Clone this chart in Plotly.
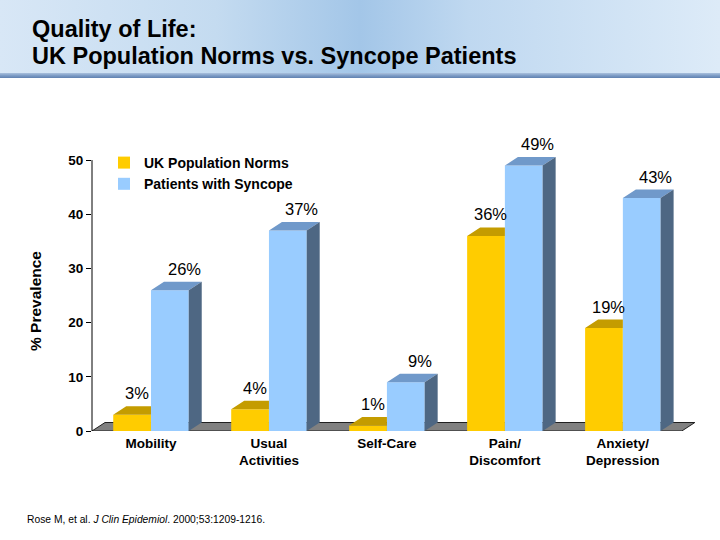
import plotly.graph_objects as go

# ---------------- data ----------------
categories = ["Mobility", "Usual<br>Activities", "Self-Care", "Pain/<br>Discomfort", "Anxiety/<br>Depression"]
uk_norms = [3, 4, 1, 36, 19]
syncope = [26, 37, 9, 49, 43]
series_names = ["UK Population Norms", "Patients with Syncope"]
y_ticks = [0, 10, 20, 30, 40, 50]

title_line1 = "Quality of Life:"
title_line2 = "UK Population Norms vs. Syncope Patients"
y_title = "% Prevalence"
citation = "Rose M, et al. <i>J Clin Epidemiol</i>. 2000;53:1209-1216."

# ---------------- geometry / style ----------------
W, H = 720, 540
PX_L, PX_R, PX_T, PX_B = 92, 696, 133, 431
X_RANGE = [-0.5, 4.62]
Y_RANGE = [0, 55]
ppx = (PX_R - PX_L) / (X_RANGE[1] - X_RANGE[0])
ppy = (PX_B - PX_T) / (Y_RANGE[1] - Y_RANGE[0])
DX = 13 / ppx          # 3D depth offset in x data units
DY = 8.5 / ppy         # 3D depth offset in y data units
BARGAP = 0.36
BW = (1 - BARGAP) / 2

FONT = "Arial, 'Liberation Sans', sans-serif"
COLORS = {
    "front": ["#FFCC00", "#99CCFF"],
    "top": ["#C49C00", "#7099CA"],
    "side": ["#9E7E00", "#4E6783"],
}

series = [uk_norms, syncope]
idx = list(range(len(categories)))

fig = go.Figure()

# ---------------- header band (full-figure overlay axes) ----------------
fig.add_trace(go.Scatter(
    x=[0, W, W, 0, 0], y=[0, 0, 74, 74, 0], xaxis="x2", yaxis="y2",
    mode="lines", line=dict(width=0), fill="toself", fillcolor="#BCD6EF",
    fillgradient=dict(type="horizontal", colorscale=[
        [0, "#D8E7F6"], [0.3, "#C4DBF0"], [0.5, "#A3C6E8"], [0.65, "#BFD8F0"], [1, "#DDEBF8"]]),
    hoverinfo="skip", showlegend=False))
fig.add_trace(go.Scatter(
    x=[0, W, W, 0, 0], y=[73, 73, 78, 78, 73], xaxis="x2", yaxis="y2",
    mode="lines", line=dict(width=0), fill="toself", fillcolor="#7F9FC8",
    fillgradient=dict(type="vertical", colorscale=[
        [0, "#5F80B0"], [0.5, "#7E9DC6"], [1, "#A9C0DD"]]),
    hoverinfo="skip", showlegend=False))

# ---------------- bars (front faces) ----------------
for s, vals in enumerate(series):
    fig.add_trace(go.Bar(
        x=idx, y=vals, name=series_names[s],
        marker=dict(color=COLORS["front"][s], line=dict(width=0)),
        hoverinfo="skip"))

# ---------------- top and side faces ----------------
for s, vals in enumerate(series):
    other = series[1 - s]
    tx, ty, sx, sy = [], [], [], []
    for i, v in enumerate(vals):
        xl = i - BW + s * BW
        xr = xl + BW
        clip = (s == 0 and other[i] >= v + DY)
        if clip:
            tx += [xl, xr, xr, xl + DX, xl, None]
            ty += [v, v, v + DY, v + DY, v, None]
        else:
            tx += [xl, xr, xr + DX, xl + DX, xl, None]
            ty += [v, v, v + DY, v + DY, v, None]
            sx += [xr, xr + DX, xr + DX, xr, xr, None]
            sy += [0, DY, v + DY, v, 0, None]
    fig.add_trace(go.Scatter(x=tx, y=ty, mode="lines", line=dict(width=0),
                             fill="toself", fillcolor=COLORS["top"][s],
                             hoverinfo="skip", showlegend=False))
    if sx:
        fig.add_trace(go.Scatter(x=sx, y=sy, mode="lines", line=dict(width=0),
                                 fill="toself", fillcolor=COLORS["side"][s],
                                 hoverinfo="skip", showlegend=False))

# ---------------- value labels ----------------
label_dx = [0.04, 0.12]
annotations = []
for s, vals in enumerate(series):
    for i, v in enumerate(vals):
        xc = i - BW / 2 + s * BW
        annotations.append(dict(
            x=xc + label_dx[s], y=v + DY, xref="x", yref="y",
            text=f"{v}%", showarrow=False, yanchor="bottom", yshift=2,
            font=dict(family=FONT, size=16.5, color="black")))

# titles / texts
annotations += [
    dict(x=30 / W, y=1 - 28.5 / H, xref="paper", yref="paper", xanchor="left", yanchor="middle",
         text=title_line1, showarrow=False,
         font=dict(family=FONT, size=23.5, color="black", weight="bold")),
    dict(x=30 / W, y=1 - 56 / H, xref="paper", yref="paper", xanchor="left", yanchor="middle",
         text=title_line2, showarrow=False,
         font=dict(family=FONT, size=23.5, color="black", weight="bold")),
    dict(x=35 / W, y=1 - 301 / H, xref="paper", yref="paper", xanchor="center", yanchor="middle",
         text=y_title, textangle=-90, showarrow=False,
         font=dict(family=FONT, size=15.5, color="black", weight="bold")),
    dict(x=25 / W, y=1 - 519 / H, xref="paper", yref="paper", xanchor="left", yanchor="middle",
         text=citation, showarrow=False,
         font=dict(family=FONT, size=10.3, color="black")),
]

# ---------------- floor and axis line ----------------
shapes = [
    dict(type="path", xref="x", yref="y", layer="below",
         path=(f"M {X_RANGE[0]},0 L {len(categories) - 0.5},0 "
               f"L {len(categories) - 0.5 + DX},{DY} L {X_RANGE[0] + DX},{DY} Z"),
         fillcolor="#808080", line=dict(color="#202020", width=1)),
    dict(type="line", xref="paper", yref="y", layer="above",
         x0=PX_L / W, x1=PX_L / W, y0=0, y1=y_ticks[-1],
         line=dict(color="black", width=1)),
]

fig.update_layout(
    width=W, height=H, autosize=False, margin=dict(l=0, r=0, t=0, b=0, autoexpand=False),
    paper_bgcolor="white", plot_bgcolor="rgba(0,0,0,0)",
    barmode="group", bargap=BARGAP, bargroupgap=0,
    font=dict(family=FONT, color="black"),
    xaxis=dict(domain=[PX_L / W, PX_R / W], range=X_RANGE, tickvals=idx, ticktext=categories,
               showgrid=False, zeroline=False, showline=False, ticks="", automargin=False,
               ticklabelstandoff=2,
               tickfont=dict(family=FONT, size=13.5, color="black", weight="bold")),
    yaxis=dict(domain=[1 - PX_B / H, 1 - PX_T / H], range=Y_RANGE, tickvals=y_ticks,
               showgrid=False, zeroline=False, showline=False, ticks="outside",
               ticklen=5, tickcolor="black", automargin=False,
               tickfont=dict(family=FONT, size=13.5, color="black", weight="bold")),
    xaxis2=dict(domain=[0, 1], range=[0, W], visible=False, fixedrange=True, anchor="y2"),
    yaxis2=dict(domain=[0, 1], range=[H, 0], visible=False, fixedrange=True, anchor="x2"),
    legend=dict(x=104 / W, y=1 - 147 / H, xanchor="left", yanchor="top",
                bgcolor="rgba(0,0,0,0)", tracegroupgap=0,
                font=dict(family=FONT, size=14, color="black", weight="bold")),
    showlegend=True,
    annotations=annotations, shapes=shapes,
)

fig.write_html(
    "out.html",
    config={"displayModeBar": False},
    post_script="document.body.style.margin='0';document.body.style.overflow='hidden';"
                "document.documentElement.style.overflow='hidden';",
)
